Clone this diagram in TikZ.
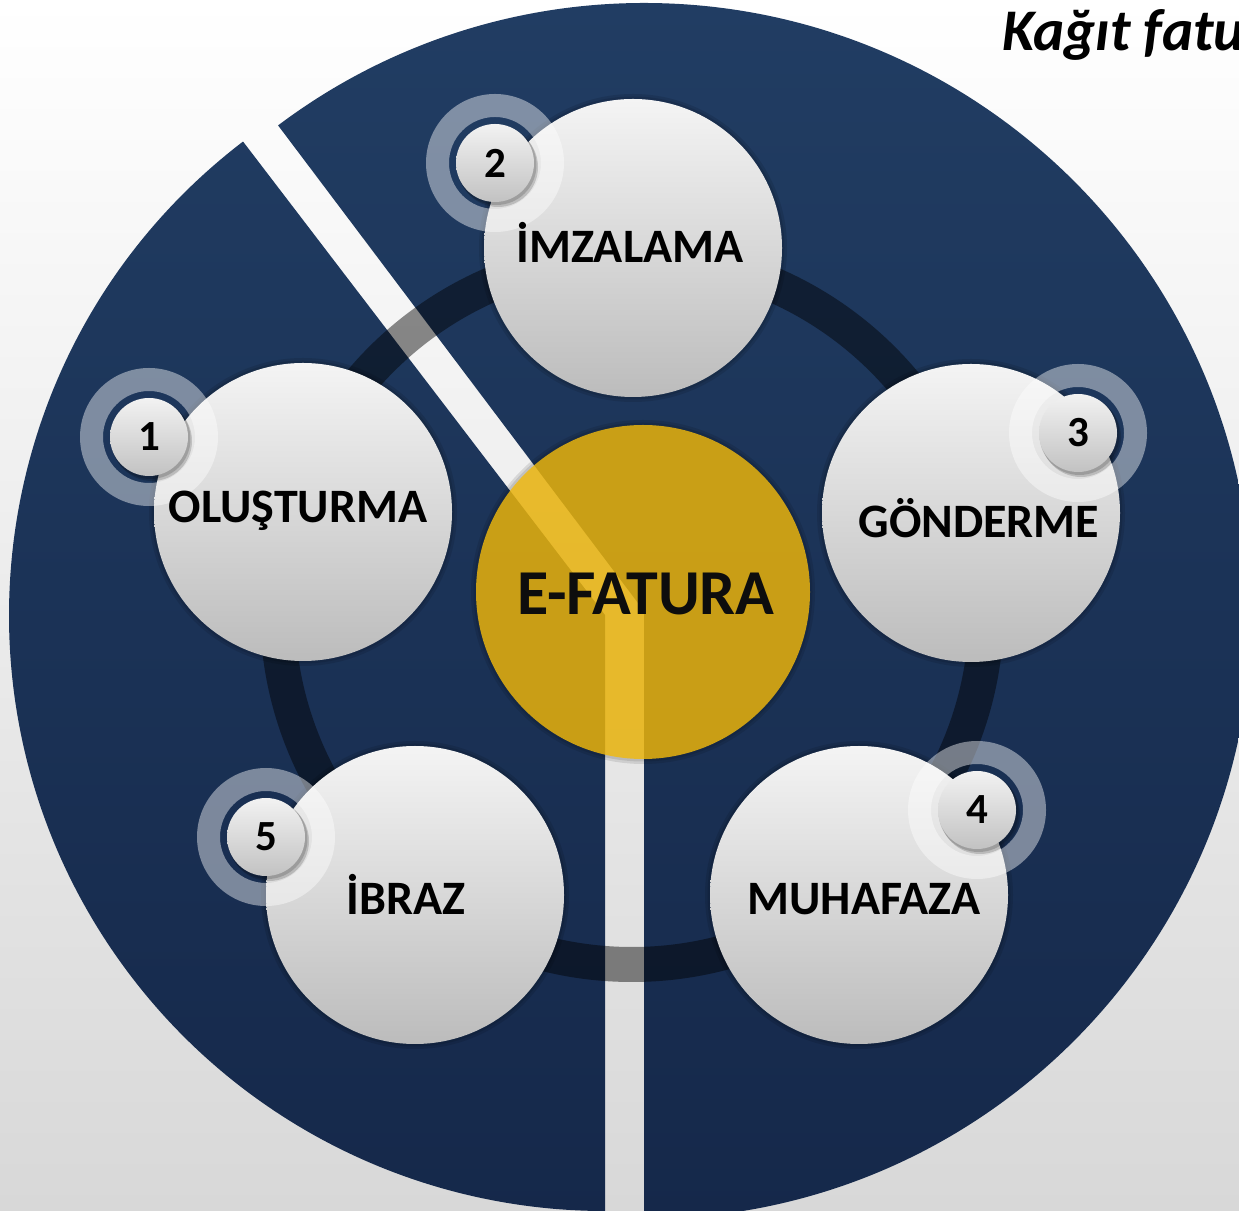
\documentclass[tikz,border=0pt]{standalone}
\usepackage{fontspec}
\setmainfont{Carlito}
\definecolor{bgtop}{HTML}{FFFFFF}
\definecolor{bgbot}{HTML}{D8D8D8}
\definecolor{navytop}{HTML}{213D63}
\definecolor{navybot}{HTML}{15284A}
\definecolor{discTop}{HTML}{F4F4F4}
\definecolor{discBot}{HTML}{BCBCBC}
\definecolor{badgeTop}{HTML}{F2F2F2}
\definecolor{badgeBot}{HTML}{C2C2C2}
\definecolor{yel}{RGB}{241,185,12}
\begin{document}
\begin{tikzpicture}[x=1pt,y=1pt,
  disc/.style={circle, minimum size=298pt, inner sep=0pt, top color=discTop, bottom color=discBot},
  core/.style={circle, minimum size=334pt, inner sep=0pt, fill=yel, fill opacity=0.82},
  badge/.style={circle, minimum size=78pt, inner sep=0pt, top color=badgeTop, bottom color=badgeBot},
  steptext/.style={anchor=base, inner sep=0pt, font=\fontsize{48}{56}\selectfont\bfseries},
  numtext/.style={inner sep=0pt, font=\fontsize{43}{50}\selectfont\bfseries},
  softrim/.style={fill=black, opacity=0.10},
  ringband/.style={draw=black, draw opacity=0.45, line width=35pt},
  badgering/.style={fill=white, fill opacity=0.43, even odd rule},
  badgeshadow/.style={fill=black, opacity=0.16}
]
\useasboundingbox (0,0) rectangle (1239,1210);
% background
\shade[top color=bgtop, bottom color=bgbot] (0,0) rectangle (1239,1210);
% exploded pie slices
\coordinate (lc) at (605,595);
\coordinate (rc) at (644,599);
\begin{scope}
  \clip (lc) -- ++(127.4:596pt) arc[start angle=127.4, end angle=270, radius=596pt] -- cycle
        (rc) -- ++(-90:608pt) arc[start angle=-90, end angle=127, radius=608pt] -- cycle;
  \shade[top color=navytop, bottom color=navybot] (0,-10) rectangle (1239,1210);
\end{scope}
% dark ring
\coordinate (ringc) at (632,600);
\draw[ringband] (ringc) circle (354.5pt);
% soft rims of the discs
\foreach \p in {(633,962),(303,698),(971,697),(415,315),(859,315)}{
  \fill[softrim] \p circle (154pt);
  \fill[softrim] \p circle (151.5pt);
}
\fill[softrim] (643,618) circle (172pt);
\fill[softrim] (643,618) circle (169.5pt);
% step discs
\node[disc] (imz) at (633,962) {};
\node[disc] (olu) at (303,698) {};
\node[disc] (gon) at (971,697) {};
\node[disc] (ibr) at (415,315) {};
\node[disc] (muh) at (859,315) {};
% centre disc
\node[core] (efat) at (643,618) {};
% badges
\foreach \p in {(149,773),(495,1047),(1078,777),(977,400),(266,373)}{
  \fill[badgering] \p circle (69pt) \p circle (46pt);
  \fill[badgeshadow, shift={(3,-4)}] \p circle (40pt);
  \fill[badgeshadow, shift={(1.5,-2)}] \p circle (40pt);
}
\node[badge] (b1) at (149,773) {};
\node[badge] (b2) at (495,1047) {};
\node[badge] (b3) at (1078,777) {};
\node[badge] (b4) at (977,400) {};
\node[badge] (b5) at (266,373) {};
\node[numtext] (n1) at (b1) {1};
\node[numtext] (n2) at (b2) {2};
\node[numtext] (n3) at (b3) {3};
\node[numtext] (n4) at (b4) {4};
\node[numtext] (n5) at (b5) {5};
% labels
\node[steptext] (t2) at (630,947) {İMZALAMA};
\node[steptext] (t1) at (298,687) {OLUŞTURMA};
\node[steptext] (t3) at (979,672) {GÖNDERME};
\node[steptext] (t5) at (406,295) {İBRAZ};
\node[steptext] (t4) at (864,295) {MUHAFAZA};
\node[anchor=base, inner sep=0pt, font=\fontsize{64}{74}\selectfont\bfseries, text=black!95] (tc) at (646,595) {E-FATURA};
\node[anchor=base west, inner sep=0pt, font=\fontsize{59}{68}\selectfont\bfseries\itshape] (title) at (1002,1159) {Kağıt fatu};
\end{tikzpicture}
\end{document}
